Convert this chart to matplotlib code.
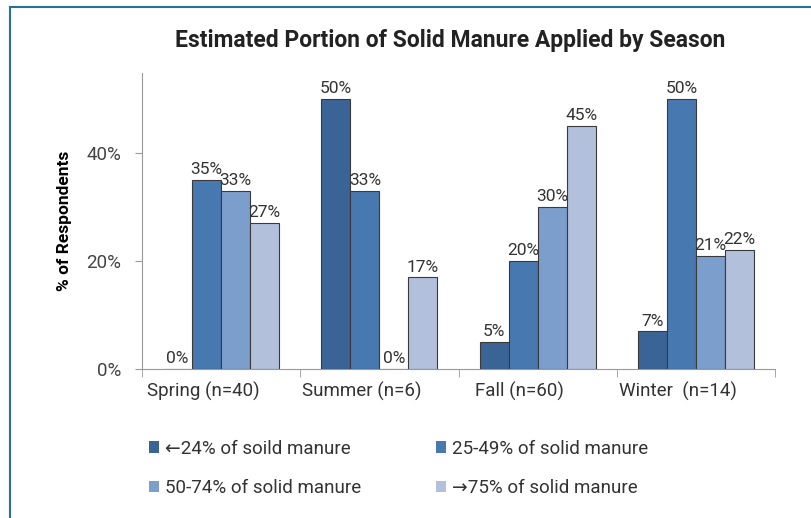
import numpy as np
import matplotlib.pyplot as plt
import matplotlib.transforms as mtransforms
from matplotlib.patches import Rectangle

plt.rcParams['font.family'] = ['Roboto', 'DejaVu Sans']

seasons = ['Spring (n=40)', 'Summer (n=6)', 'Fall (n=60)', 'Winter  (n=14)']
series = ['\u219024% of soild manure', '25-49% of solid manure',
          '50-74% of solid manure', '\u219275% of solid manure']
lt25 = [0, 50, 5, 7]
p25_49 = [35, 33, 20, 50]
p50_74 = [33, 0, 30, 21]
gt75 = [27, 17, 45, 22]
values = [lt25, p25_49, p50_74, gt75]
colors = ['#3b6496', '#4878b0', '#7b9ecc', '#b3c0dc']

fig = plt.figure(figsize=(8.11, 5.18), dpi=100)
ax = fig.add_axes([0.175, 0.2876, 0.781, 0.5714])

x = np.arange(len(seasons))
w = 0.183
for i, vals in enumerate(values):
    pos = x + (i - 1.5) * w
    ax.bar(pos, vals, w, color=colors[i], edgecolor='#3a3a3a', linewidth=0.8, zorder=3)
    for px, v in zip(pos, vals):
        ax.text(px, v + 0.5, f'{v}%', ha='center', va='bottom', fontsize=12.5, color='#333333')

ax.set_xlim(-0.5, 3.5)
ax.set_ylim(0, 54.8)
ax.set_yticks([0, 20, 40])
ax.set_yticklabels(['0%', '20%', '40%'])
ax.set_xticks(x)
ax.set_xticklabels(seasons)
ax.set_xticks(np.arange(-0.5, 4, 1), minor=True)
ax.tick_params(axis='x', which='major', length=0, pad=9, labelsize=13.5, labelcolor='#333333')
ax.tick_params(axis='x', which='minor', length=6, color='#999999')
ax.tick_params(axis='y', length=5, color='#999999', labelsize=13.5, labelcolor='#444444', pad=10)
# category labels sit a bit left of the group centres in the original
shift = mtransforms.ScaledTranslation(-18 / 100, 0, fig.dpi_scale_trans)
for lab in ax.get_xticklabels():
    lab.set_transform(lab.get_transform() + shift)
for s in ['top', 'right']:
    ax.spines[s].set_visible(False)
for s in ['left', 'bottom']:
    ax.spines[s].set_color('#999999')
ax.set_ylabel('% of Respondents', fontsize=12.5, fontweight='bold', labelpad=10)

fig.text(0.555, 0.922, 'Estimated Portion of Solid Manure Applied by Season',
         ha='center', va='center', fontsize=16.5, fontweight='bold', color='#222222')

handles = [Rectangle((0, 0), 1, 1, facecolor=c, edgecolor='none') for c in colors]
order = [0, 2, 1, 3]
leg = fig.legend([handles[k] for k in order], [series[k] for k in order],
                 ncol=2, loc='upper left', bbox_to_anchor=(0.174, 0.166),
                 frameon=False, fontsize=13.5, handlelength=0.55, handleheight=0.55,
                 handletextpad=0.3, columnspacing=4.0, labelspacing=1.15,
                 borderaxespad=0)
for t in leg.get_texts():
    t.set_color('#333333')

# frame lines at top and left
fig.add_artist(plt.Line2D([10 / 811, 10 / 811], [0, 1 - 7 / 518], transform=fig.transFigure,
                          color='#2a7090', linewidth=1.5))
fig.add_artist(plt.Line2D([10 / 811, 1], [1 - 7 / 518, 1 - 7 / 518], transform=fig.transFigure,
                          color='#2a7090', linewidth=1.5))

fig.savefig('out.png', dpi=100)
